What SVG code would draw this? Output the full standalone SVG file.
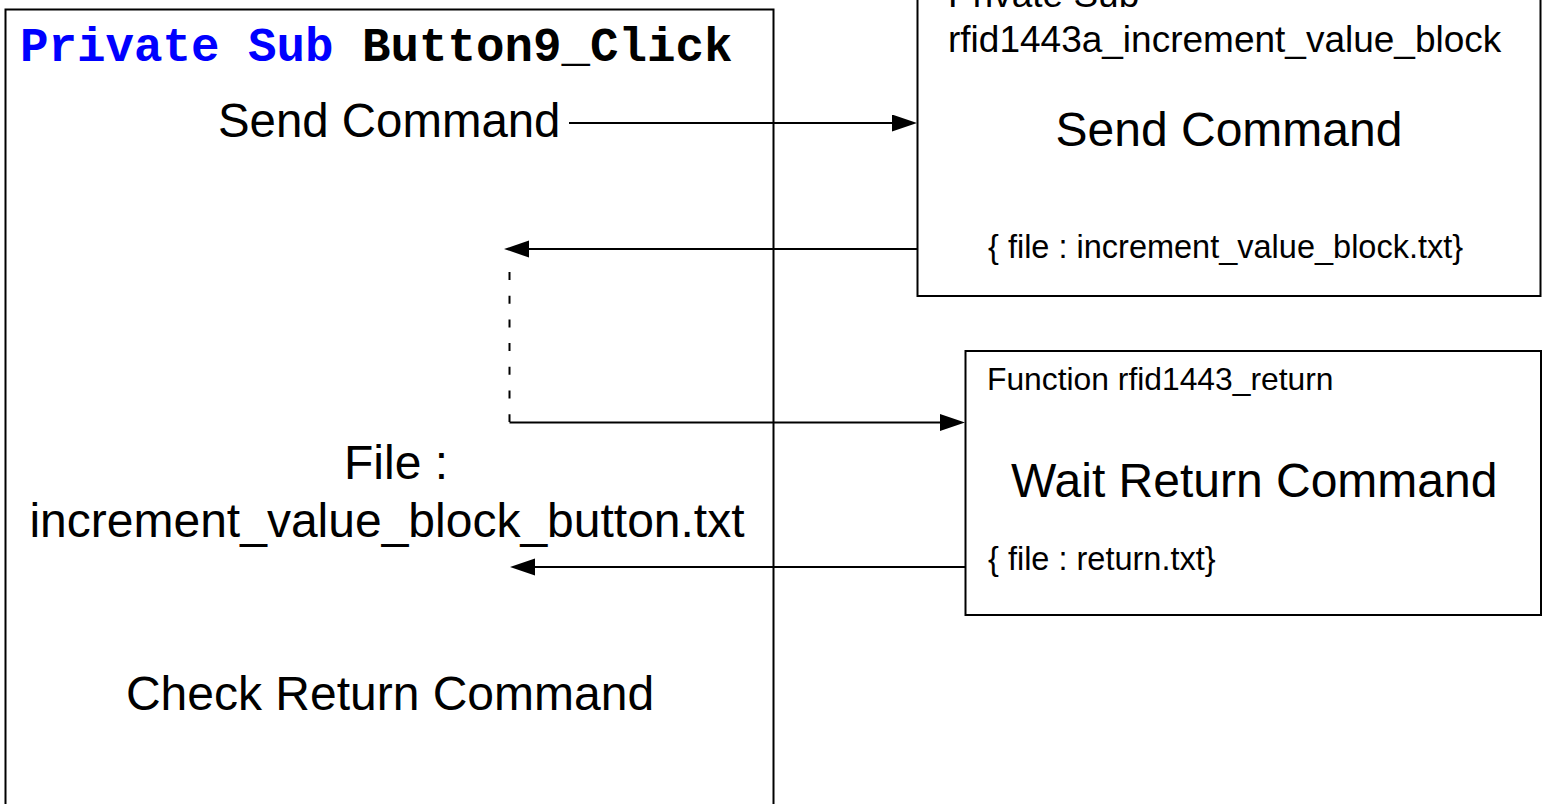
<svg xmlns="http://www.w3.org/2000/svg" width="1546" height="804" viewBox="0 0 1546 804">
  <style>
    .box { fill: #ffffff; stroke: #000000; stroke-width: 2; }
    .wire { fill: none; stroke: #000000; stroke-width: 2; }
    .dash { stroke-dasharray: 8 15.7; }
    .t { font-family: "Liberation Sans", Arial, sans-serif; fill: #000000; }
    .big { font-size: 48px; }
    .mid { font-size: 37px; }
    .small { font-size: 32.5px; }
    .code { font-family: "Liberation Mono", "Courier New", monospace; font-weight: bold; font-size: 47.5px; }
    .kw { fill: #0000ff; }
  </style>
  <defs>
    <marker id="arrow" markerUnits="userSpaceOnUse" markerWidth="26" markerHeight="18" refX="0" refY="8.5" orient="auto">
      <path d="M0,0 L25,8.5 L0,17 z" fill="#000000"/>
    </marker>
  </defs>

  <rect width="1546" height="804" fill="#ffffff"/>

  <!-- caller routine -->
  <g id="button9-click">
    <rect class="box" x="5.5" y="9.5" width="768" height="900"/>
    <text class="code" x="20" y="61"><tspan class="kw">Private Sub</tspan> Button9_Click</text>
    <text class="t" x="218" y="137" font-size="47.4">Send Command</text>
    <text class="t big" x="396" y="479" text-anchor="middle">File :</text>
    <text class="t big" x="387" y="537" text-anchor="middle">increment_value_block_button.txt</text>
    <text class="t big" x="390" y="710" text-anchor="middle">Check Return Command</text>
  </g>

  <!-- send routine -->
  <g id="increment-value-block">
    <rect class="box" x="917.5" y="-20" width="623" height="316"/>
    <text class="t mid" x="948" y="7">Private Sub</text>
    <text class="t mid" x="948" y="52">rfid1443a_increment_value_block</text>
    <text class="t big" x="1229" y="146" text-anchor="middle">Send Command</text>
    <text class="t small" x="988" y="258">{ file : increment_value_block.txt}</text>
  </g>

  <!-- return routine -->
  <g id="rfid1443-return">
    <rect class="box" x="965.5" y="351" width="575.5" height="264"/>
    <text class="t" x="987" y="390" font-size="31.8">Function rfid1443_return</text>
    <text class="t big" x="1011" y="497">Wait Return Command</text>
    <text class="t small" x="988" y="570">{ file : return.txt}</text>
  </g>

  <!-- connectors -->
  <g id="connectors">
    <path class="wire" d="M569,123 H892" marker-end="url(#arrow)"/>
    <path class="wire" d="M917,249 H529" marker-end="url(#arrow)"/>
    <path class="wire dash" d="M509.5,272 V422"/>
    <path class="wire" d="M509.5,422.5 H940" marker-end="url(#arrow)"/>
    <path class="wire" d="M965,567 H535" marker-end="url(#arrow)"/>
  </g>
</svg>
